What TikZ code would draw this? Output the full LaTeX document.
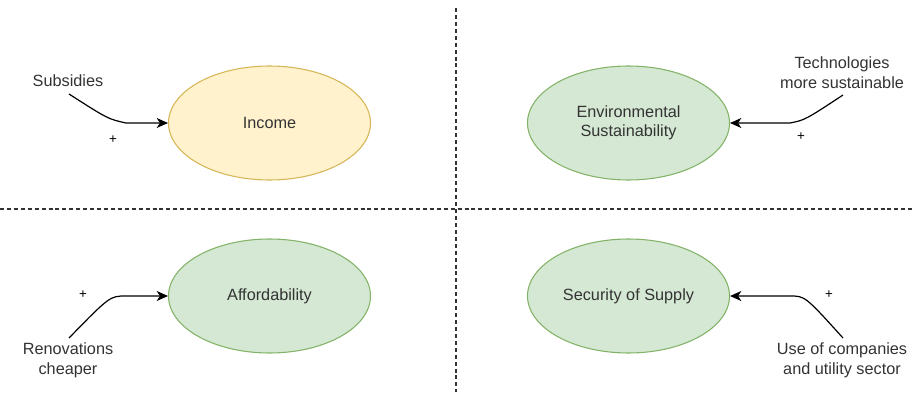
\documentclass[tikz,border=0pt]{standalone}
\usepackage{fontspec}
\setmainfont{Liberation Sans}
\usetikzlibrary{shapes.geometric,arrows.meta}
\definecolor{txt}{HTML}{333333}
\definecolor{yfill}{HTML}{FFF2CC}
\definecolor{ydraw}{HTML}{D6B656}
\definecolor{gfill}{HTML}{D5E8D4}
\definecolor{gdraw}{HTML}{82B366}
\tikzset{
  blob/.style={ellipse, minimum width=151.5pt, minimum height=85.5pt, inner sep=0pt, line width=0.8pt, text=txt, align=center, font=\fontsize{12.2}{14.6}\selectfont},
  yblob/.style={blob, draw=ydraw, fill=yfill},
  gblob/.style={blob, draw=gdraw, fill=gfill},
  lbl/.style={text=txt, align=center, inner sep=0pt, font=\fontsize{12.2}{15}\selectfont},
  sign/.style={text=black, inner sep=0pt, font=\fontsize{10}{12}\selectfont},
  link/.style={line width=0.9pt, -{Stealth[length=8.5pt,width=7.5pt,inset=2.5pt]}},
  divider/.style={line width=0.8pt, dash pattern=on 3pt off 2.2pt, black!80}
}
\begin{document}
\begin{tikzpicture}[x=0.75pt,y=-0.75pt]
\useasboundingbox (0,0) rectangle (912,392);
\draw[divider] (456,8) -- (456,392);
\draw[divider] (0,209) -- (912,209);

\node[yblob] (inc) at (269.5,123) {Income};
\node[gblob] (env) at (628.5,123) {Environmental\\Sustainability};
\node[gblob] (aff) at (269.5,296) {Affordability};
\node[gblob] (sec) at (628.5,296) {Security of Supply};

\node[lbl] (sub) at (68,81) {Subsidies};
\node[lbl] (tech) at (842,73) {Technologies\\more sustainable};
\node[lbl] (ren) at (68,360) {Renovations\\cheaper};
\node[lbl] (use) at (842,360) {Use of companies\\and utility sector};

\coordinate (subS) at (69,94);
\coordinate (techS) at (843,95);
\coordinate (renS) at (69,338);
\coordinate (useS) at (843,338);

\draw[link] (subS) .. controls (108,119) .. (126,123) -- (inc.west);
\draw[link] (techS) .. controls (805,120) .. (790,123) -- (env.east);
\draw[link] (renS) .. controls (110,296) .. (126,296) -- (aff.west);
\draw[link] (useS) .. controls (805,296) .. (790,296) -- (sec.east);

\node[sign] (p1) at (113,140) {+};
\node[sign] (p2) at (801,137) {+};
\node[sign] (p3) at (83,295) {+};
\node[sign] (p4) at (829,295) {+};
\end{tikzpicture}
\end{document}
